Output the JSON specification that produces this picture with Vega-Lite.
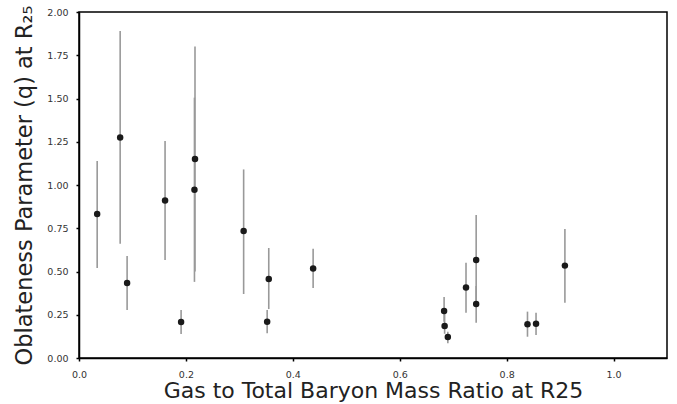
{
  "$schema": "https://vega.github.io/schema/vega-lite/v6.json",
  "autosize": "none",
  "width": 588,
  "height": 346,
  "padding": {"left": 79, "top": 12, "right": 10, "bottom": 46},
  "background": "white",
  "config": {
    "view": {"stroke": "black", "strokeWidth": 1.5},
    "axis": {
      "grid": false,
      "labelFlush": false,
      "labelFont": "DejaVu Sans",
      "labelFontSize": 9.5,
      "labelColor": "#333333",
      "titleFont": "DejaVu Sans",
      "titleFontSize": 22,
      "titleFontWeight": "normal",
      "titleColor": "#222222",
      "domainColor": "black",
      "domainWidth": 1.5,
      "tickColor": "black",
      "tickSize": 3,
      "tickWidth": 1.5
    }
  },
  "data": {
    "values": [
      {"x": 0.034, "q": 0.832, "lo": 0.52, "hi": 1.139},
      {"x": 0.077, "q": 1.275, "lo": 0.66, "hi": 1.89},
      {"x": 0.090, "q": 0.434, "lo": 0.277, "hi": 0.59},
      {"x": 0.161, "q": 0.91, "lo": 0.566, "hi": 1.254},
      {"x": 0.191, "q": 0.208, "lo": 0.139, "hi": 0.277},
      {"x": 0.217, "q": 1.15, "lo": 0.50, "hi": 1.80},
      {"x": 0.216, "q": 0.973, "lo": 0.44, "hi": 1.505},
      {"x": 0.308, "q": 0.734, "lo": 0.37, "hi": 1.09},
      {"x": 0.355, "q": 0.457, "lo": 0.283, "hi": 0.636},
      {"x": 0.352, "q": 0.21, "lo": 0.143, "hi": 0.277},
      {"x": 0.438, "q": 0.518, "lo": 0.404, "hi": 0.632},
      {"x": 0.683, "q": 0.272, "lo": 0.21, "hi": 0.353},
      {"x": 0.684, "q": 0.185, "lo": 0.14, "hi": 0.26},
      {"x": 0.690, "q": 0.121, "lo": 0.085, "hi": 0.152},
      {"x": 0.724, "q": 0.407, "lo": 0.262, "hi": 0.551},
      {"x": 0.743, "q": 0.566, "lo": 0.31, "hi": 0.827},
      {"x": 0.743, "q": 0.312, "lo": 0.204, "hi": 0.416},
      {"x": 0.839, "q": 0.195, "lo": 0.123, "hi": 0.268},
      {"x": 0.855, "q": 0.198, "lo": 0.133, "hi": 0.262},
      {"x": 0.909, "q": 0.534, "lo": 0.32, "hi": 0.746}
    ]
  },
  "encoding": {
    "x": {
      "field": "x",
      "type": "quantitative",
      "scale": {"domain": [0, 1.1], "nice": false, "zero": false},
      "axis": {
        "title": "Gas to Total Baryon Mass Ratio at R25",
        "values": [0, 0.2, 0.4, 0.6, 0.8, 1.0],
        "format": ".1f",
        "labelPadding": 8,
        "titlePadding": 2
      }
    }
  },
  "layer": [
    {
      "mark": {"type": "rule", "color": "#999999", "strokeWidth": 1.6},
      "encoding": {
        "y": {"field": "lo", "type": "quantitative"},
        "y2": {"field": "hi"}
      }
    },
    {
      "mark": {"type": "point", "filled": true, "color": "#1a1a1a", "size": 42, "opacity": 1},
      "encoding": {
        "y": {
          "field": "q",
          "type": "quantitative",
          "scale": {"domain": [0, 2], "nice": false},
          "axis": {
            "title": "Oblateness Parameter (q) at R₂₅",
            "titleFontSize": 22.5,
            "values": [0, 0.25, 0.5, 0.75, 1.0, 1.25, 1.5, 1.75, 2.0],
            "format": ".2f",
            "labelPadding": 8,
            "titlePadding": 10
          }
        }
      }
    }
  ]
}
